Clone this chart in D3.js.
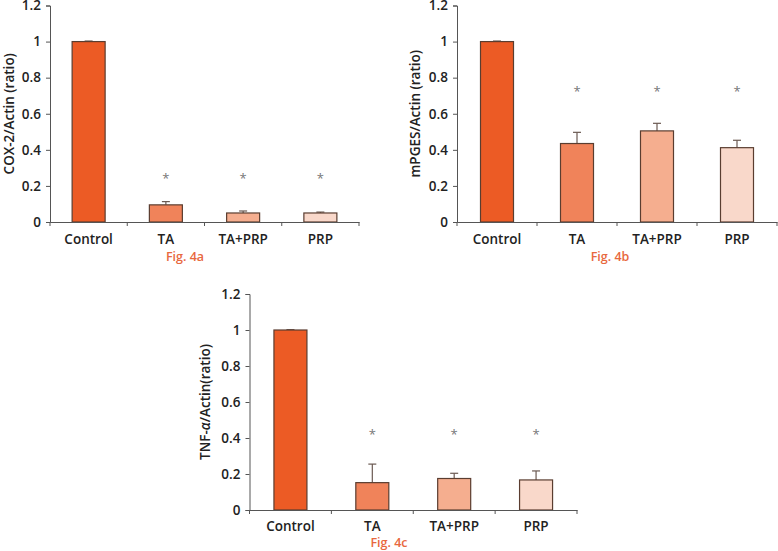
<!DOCTYPE html>
<html><head><meta charset="utf-8">
<script src="https://cdn.jsdelivr.net/npm/d3@7"></script>
<style>
body{margin:0;background:#fff;}
text{font-family:"Open Sans","Noto Sans",sans-serif;}
</style></head>
<body><svg id="c" width="778" height="551"></svg>
<script>
const categories = ["Control", "TA", "TA+PRP", "PRP"];
const yTicks = [0, 0.2, 0.4, 0.6, 0.8, 1, 1.2];
const cox2Values = [1.0, 0.095, 0.05, 0.05];
const cox2Errors = [0.003, 0.018, 0.011, 0.005];
const cox2Stars = [null, 0.25, 0.25, 0.25];
const mpgesValues = [1.0, 0.435, 0.505, 0.412];
const mpgesErrors = [0.003, 0.062, 0.042, 0.041];
const mpgesStars = [null, 0.73, 0.73, 0.73];
const tnfValues = [1.0, 0.152, 0.175, 0.167];
const tnfErrors = [0.002, 0.103, 0.029, 0.05];
const tnfStars = [null, 0.43, 0.43, 0.43];
const barColors = ["#EC5B25", "#F0835A", "#F5AE8F", "#F9D8CA"];
const figLabels = ["Fig. 4a", "Fig. 4b", "Fig. 4c"];

const svg = d3.select("#c");

function panel(o){
  const g = svg.append("g");
  const x = d3.scaleBand().domain(categories).range([o.x0, o.x1]);
  const y = d3.scaleLinear().domain([0, 1.2]).range([o.y0, o.y1]);
  const bw = 33;
  const axisColor = "#555";
  const ya = g.append("g").attr("transform", `translate(${o.x0},0)`)
    .call(d3.axisLeft(y).tickValues(yTicks).tickSize(4).tickFormat(d3.format("~g")));
  ya.select(".domain").attr("stroke", axisColor);
  ya.selectAll(".tick line").attr("stroke", axisColor);
  ya.selectAll(".tick text").attr("font-size", 13.5).attr("font-weight", 600).attr("fill", "#222").attr("x", -9)
    .attr("font-family", '"Open Sans",sans-serif');
  categories.forEach((c, i) => {
    const cx = x(c) + x.bandwidth()/2;
    const top = y(o.values[i] + o.errors[i]);
    g.append("line").attr("x1", cx).attr("x2", cx).attr("y1", y(o.values[i])).attr("y2", top)
      .attr("stroke", "#6b5a52").attr("stroke-width", 1.2);
    g.append("line").attr("x1", cx-4).attr("x2", cx+4).attr("y1", top).attr("y2", top)
      .attr("stroke", "#6b5a52").attr("stroke-width", 1.2);
    g.append("rect").attr("x", cx - bw/2).attr("width", bw)
      .attr("y", y(o.values[i])).attr("height", y(0) - y(o.values[i]))
      .attr("fill", barColors[i]).attr("stroke", "#5a3d30").attr("stroke-width", 1.2);
    if (o.stars[i] != null) {
      g.append("text").attr("x", cx).attr("y", y(o.stars[i]) + 6).attr("text-anchor", "middle")
        .attr("font-size", 13).attr("fill", "#777").text("*");
    }
  });
  const xa = g.append("g").attr("transform", `translate(0,${o.y0})`)
    .call(d3.axisBottom(x).tickSize(0).tickFormat(""));
  xa.select(".domain").attr("stroke", axisColor);
  const bounds = categories.map(c => x(c)).concat([o.x1]);
  bounds.forEach(b => {
    g.append("line").attr("x1", b).attr("x2", b).attr("y1", o.y0).attr("y2", o.y0 + 4).attr("stroke", axisColor);
  });
  categories.forEach(c => {
    g.append("text").attr("x", x(c) + x.bandwidth()/2).attr("y", o.y0 + o.cy).attr("text-anchor", "middle")
      .attr("font-size", 13.5).attr("font-weight", 600).attr("fill", "#222").text(c);
  });
  const yl = g.append("text").attr("transform", `translate(${o.lx},${(o.y0+o.y1)/2}) rotate(-90)`)
    .attr("text-anchor", "middle").attr("font-size", 13.5).attr("font-weight", 600).attr("fill", "#222");
  if (o.labelParts) {
    o.labelParts.forEach(p => yl.append("tspan").attr("font-style", p.italic ? "italic" : null).text(p.t));
  } else yl.text(o.label);
  g.append("text").attr("x", o.fx).attr("y", o.fy).attr("text-anchor", "middle")
    .attr("font-size", 12.5).attr("font-weight", 600).attr("fill", "#E8683E").text(o.fig);
}

panel({x0:50, x1:359, y0:222, y1:5.5, values:cox2Values, errors:cox2Errors, stars:cox2Stars, cy:22,
  label:"COX-2/Actin (ratio)", lx:14, fx:185, fy:261, fig:figLabels[0]});
panel({x0:457, x1:777, y0:222, y1:5.5, values:mpgesValues, errors:mpgesErrors, stars:mpgesStars, cy:22,
  label:"mPGES/Actin (ratio)", lx:420, fx:610, fy:261, fig:figLabels[1]});
panel({x0:249.5, x1:577, y0:510, y1:294, values:tnfValues, errors:tnfErrors, stars:tnfStars, cy:20.5,
  labelParts:[{t:"TNF-"},{t:"α",italic:true},{t:"/Actin(ratio)"}], lx:210, fx:389, fy:547, fig:figLabels[2]});
</script></body></html>
